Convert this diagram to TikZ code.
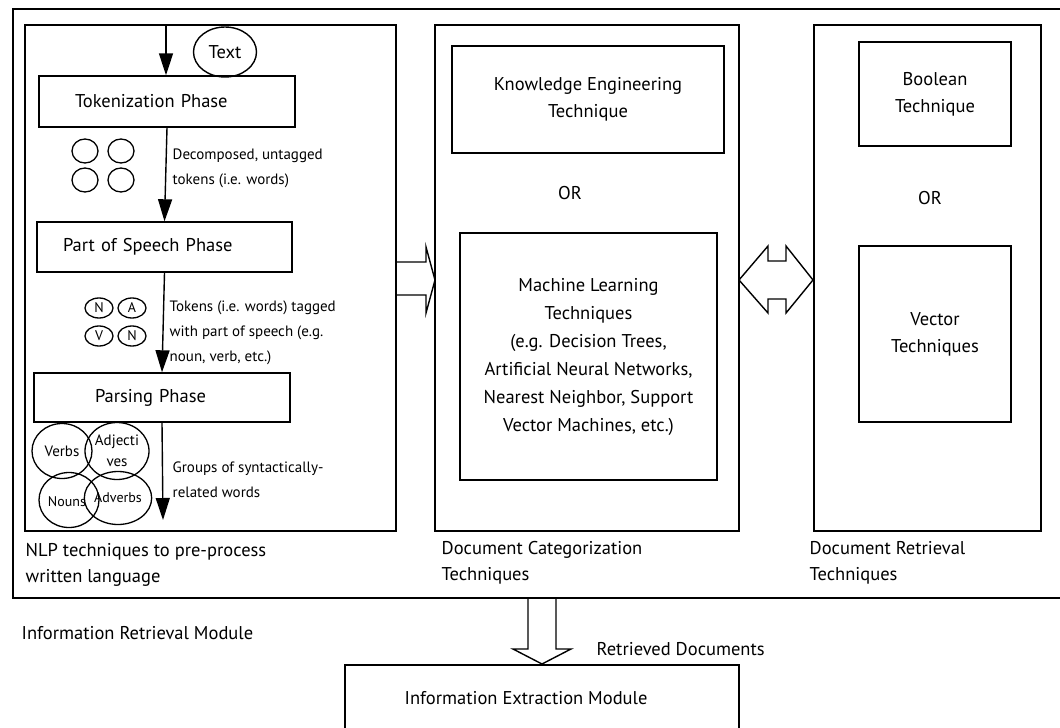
\documentclass[tikz,border=0pt]{standalone}
\usepackage{fontspec}
\setmainfont{PT Sans}
\usetikzlibrary{shapes.geometric,arrows.meta}

\begin{document}
\begin{tikzpicture}[x=1pt,y=-1pt,line width=1.4pt,
    box/.style={draw,rectangle,inner sep=0pt,font=\fontsize{18.5}{27}\selectfont},
    phase/.style={box,inner xsep=#1,align=left},
    bubble/.style={draw,ellipse,inner sep=0pt,line width=1.3pt},
    note/.style={anchor=west,align=left,inner sep=0pt,font=\fontsize{15}{25}\selectfont},
    caption/.style={anchor=west,align=left,inner sep=0pt,font=\fontsize{18.5}{26}\selectfont},
    >={Triangle[length=22pt,width=14pt]}]
\clip (0,0) rectangle (1060,728);

\draw (13,9) rectangle (1080,598);

\node[box,minimum width=371,minimum height=506] (nlp) at (210.5,278) {};
\node[box,minimum width=304,minimum height=506] (cat) at (587,278) {};
\node[box,minimum width=227,minimum height=506] (ret) at (927.5,278) {};

\node[phase=36pt,text width=184pt,minimum height=51] (tok) at (167,101.5) {Tokenization Phase};
\node[phase=26pt,text width=203pt,minimum height=50] (pos) at (164.5,247) {Part of Speech Phase};
\node[phase=61pt,text width=134pt,minimum height=49] (parse) at (162,397.5) {Parsing Phase};
\node[box,ellipse,minimum width=63,minimum height=50] (txt) at (225,52) {Text};

\coordinate (in) at (166,25);
\coordinate (out) at (163,520);
\draw[->] (in) -- (in |- tok.north);
\draw[->] (tok.south) -- (pos.north);
\draw[->] (pos.south) -- (parse.north);
\draw[->] (parse.south) -- (out);

\node[bubble,minimum width=26,minimum height=24] (w1) at (85,151) {};
\node[bubble,minimum width=26,minimum height=24] (w2) at (121,151) {};
\node[bubble,minimum width=26,minimum height=24] (w3) at (85,180) {};
\node[bubble,minimum width=26,minimum height=24] (w4) at (121,180) {};
\node[note] (tokdesc) at (172,168) {Decomposed, untagged\\tokens (i.e. words)};

\node[bubble,minimum width=28,minimum height=20,font=\fontsize{14}{14}\selectfont] (t1) at (99,308) {N};
\node[bubble,minimum width=28,minimum height=20,font=\fontsize{14}{14}\selectfont] (t2) at (132,308) {A};
\node[bubble,minimum width=28,minimum height=20,font=\fontsize{14}{14}\selectfont] (t3) at (99,336) {V};
\node[bubble,minimum width=28,minimum height=20,font=\fontsize{14}{14}\selectfont] (t4) at (132,336) {N};
\node[note] (posdesc) at (169,333) {Tokens (i.e. words) tagged\\with part of speech (e.g.\\noun, verb, etc.)};

\node[bubble,minimum width=60,minimum height=55,font=\fontsize{15}{15}\selectfont] (verbs) at (62,451) {Verbs};
\node[bubble,minimum width=64,minimum height=57,align=center,font=\fontsize{15}{21}\selectfont] (adj) at (117,451) {Adjecti\\ves};
\node[bubble,minimum width=60,minimum height=55] (nouns) at (69,500) {};
\node[bubble,minimum width=64,minimum height=53,font=\fontsize{14}{14}\selectfont] (adv) at (118,498) {Adverbs};
\node[font=\fontsize{14}{14}\selectfont,inner sep=0pt] (nounstxt) at (67,502) {Nouns};
\node[note] (parsedesc) at (172,480) {Groups of syntactically-\\related words};

\node[box,minimum width=272,minimum height=107,align=center] (know) at (588,99.5) {Knowledge Engineering\\Technique};
\node[font=\fontsize{18.5}{18.5}\selectfont] (or1) at (570,193) {OR};
\node[box,minimum width=257,minimum height=247,align=center,font=\fontsize{18.5}{28}\selectfont] (ml) at (588.5,356.5) {Machine Learning\\Techniques\\(e.g. Decision Trees,\\Artificial Neural Networks,\\Nearest Neighbor, Support\\Vector Machines, etc.)};

\node[box,minimum width=152,minimum height=104,align=center] (bool) at (935,94) {Boolean\\Technique};
\node[font=\fontsize{18.5}{18.5}\selectfont] (or2) at (930,198) {OR};
\node[box,minimum width=152,minimum height=176,align=center] (vec) at (935,334) {Vector\\Techniques};

\node[caption] (nlpcap) at (25,565) {NLP techniques to pre-process\\written language};
\node[caption] (catcap) at (441,563) {Document Categorization\\Techniques};
\node[caption] (retcap) at (809,563) {Document Retrieval\\Techniques};
\node[caption] (irm) at (21,633) {Information Retrieval Module};

\draw (396,262) -- (426,262) -- (426,247) -- (435,280) -- (426,313) -- (426,295) -- (396,295);
\draw (739,280) -- (768,246) -- (768,261) -- (786,261) -- (786,246) -- (813,280)
  -- (786,313) -- (786,299) -- (768,299) -- (768,313) -- cycle;
\draw (528,598) -- (528,649) -- (513,649) -- (542,664) -- (571,649) -- (556,649) -- (556,598);
\node[caption] (retdocs) at (596,649) {Retrieved Documents};

\node[box,minimum width=394,minimum height=95] (iem) at (542,712.5) {};
\node[caption] (iemtxt) at (404,698) {Information Extraction Module};
\end{tikzpicture}
\end{document}
